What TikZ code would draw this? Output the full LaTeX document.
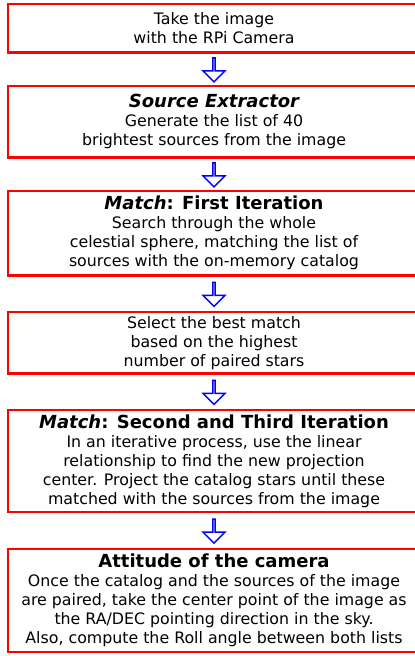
\documentclass[tikz,border=0pt]{standalone}
\usepackage{fontspec}
\setmainfont{DejaVu Sans}
\usetikzlibrary{shapes.arrows,calc}

\tikzset{
  stepbox/.style={rectangle,draw=red,line width=2.5pt,fill=white,align=center,
    minimum width=412pt,inner sep=2pt,font=\fontsize{15.8}{19}\selectfont},
  downarrow/.style={single arrow,draw=blue,line width=1.4pt,fill=white,
    rotate=-90,minimum height=24pt,minimum width=22pt,
    single arrow head extend=6pt,single arrow head indent=0pt,inner sep=0pt},
}
\newcommand{\steptitle}[1]{{\fontsize{18}{20}\selectfont\bfseries #1}}

\begin{document}
\begin{tikzpicture}[x=1pt,y=1pt]
        \clip (0,0) rectangle (415,-656);
        \node(s1) at (214,-28.25) [stepbox,minimum height=48.5pt] {Take the image\\with the RPi Camera};
        \node(s2) at (214,-121.75) [stepbox,minimum height=71.5pt] {\steptitle{\itshape Source Extractor}\\Generate the list of 40\\brightest sources from the image};
        \node(s3) at (214,-233.25) [stepbox,minimum height=84.5pt] {\steptitle{\textit{Match}: First Iteration}\\Search through the whole\\celestial sphere, matching the list of\\sources with the on-memory catalog};
        \node(s4) at (214,-342.75) [stepbox,minimum height=61.5pt] {Select the best match\\based on the highest\\number of paired stars};
        \node(s5) at (214,-461) [stepbox,minimum height=102pt] {\steptitle{\textit{Match}: Second and Third Iteration}\\In an iterative process, use the linear\\relationship to find the new projection\\center. Project the catalog stars until these\\matched with the sources from the image};
        \node(s6) at (214,-600.5) [stepbox,minimum height=103pt] {\steptitle{Attitude of the camera}\\Once the catalog and the sources of the image\\are paired, take the center point of the image as\\the RA/DEC pointing direction in the sky.\\Also, compute the Roll angle between both lists};

        \node(a1) at ($(s1.south)!0.5!(s2.north)$) [downarrow] {};
        \node(a2) at ($(s2.south)!0.5!(s3.north)$) [downarrow] {};
        \node(a3) at ($(s3.south)!0.5!(s4.north)$) [downarrow] {};
        \node(a4) at ($(s4.south)!0.5!(s5.north)$) [downarrow] {};
        \node(a5) at ($(s5.south)!0.5!(s6.north)$) [downarrow] {};
    \end{tikzpicture}
\end{document}
